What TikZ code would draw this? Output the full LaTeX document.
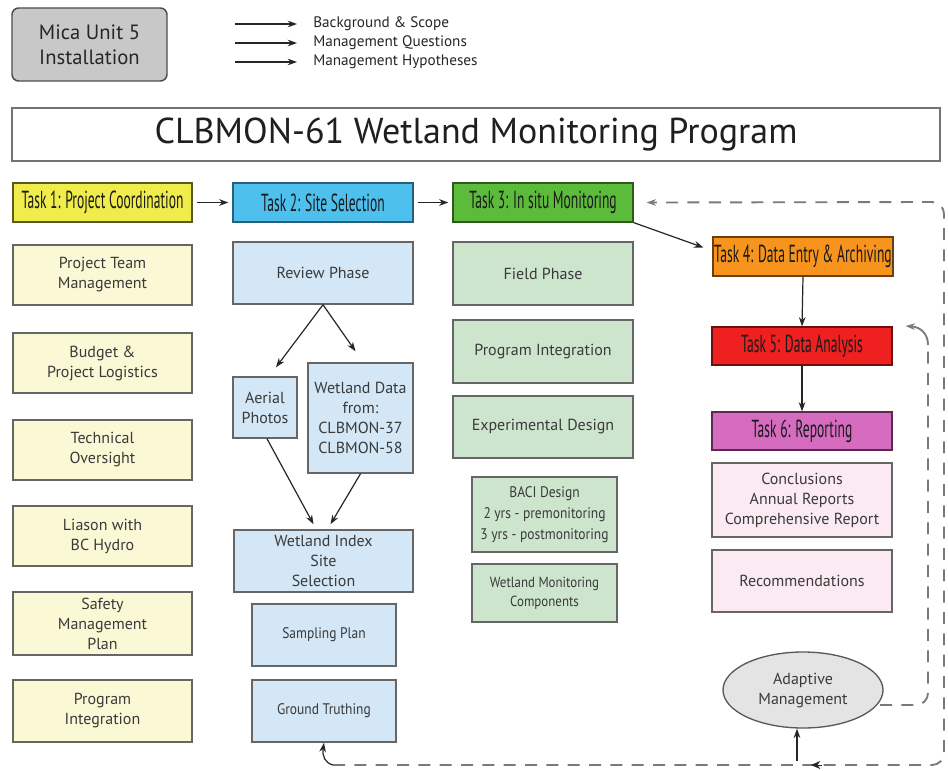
\documentclass[tikz,border=0pt]{standalone}
\usepackage{fontspec}
\setmainfont{PT Sans}
\newfontfamily\condfont[FakeStretch=0.55]{PT Sans}
\newfontfamily\narrowfont[FakeStretch=0.88]{PT Sans}
\usetikzlibrary{arrows.meta,calc,shapes.geometric}
\definecolor{tAfill}{HTML}{F0EC4C}\definecolor{tAdraw}{HTML}{5A5A20}
\definecolor{tBfill}{HTML}{4DC0EE}\definecolor{tBdraw}{HTML}{2A5F7A}
\definecolor{tCfill}{HTML}{5DBB3C}\definecolor{tCdraw}{HTML}{2F5A1E}
\definecolor{tDfill}{HTML}{F7941E}\definecolor{tDdraw}{HTML}{6A4010}
\definecolor{tEfill}{HTML}{EE2020}\definecolor{tEdraw}{HTML}{6A1010}
\definecolor{tFfill}{HTML}{D66CC0}\definecolor{tFdraw}{HTML}{5A2A50}
\definecolor{lA}{HTML}{FBF8D6}
\definecolor{lB}{HTML}{D3E7F6}
\definecolor{lC}{HTML}{CEE5CD}
\definecolor{lD}{HTML}{FBEAF2}
\definecolor{ldraw}{HTML}{666666}
\definecolor{txtgrey}{HTML}{3A3A3A}
\definecolor{micafill}{HTML}{C8C8C8}
\definecolor{amfill}{HTML}{E4E4E4}
\definecolor{loopgrey}{HTML}{7A7A7A}
\begin{document}
\begin{tikzpicture}[x=0.75pt,y=-0.75pt,
  sz/.style 2 args={minimum width=#1*0.75pt,minimum height=#2*0.75pt},
  box/.style={draw, inner sep=0pt, align=center, line width=1.1pt},
  task/.style={box, font=\condfont\fontsize{18.5}{21}\selectfont, text=black!90, line width=0.9pt},
  lt/.style={box, draw=ldraw, text=txtgrey, font=\fontsize{12}{15}\selectfont},
  lts/.style={box, draw=ldraw, text=txtgrey, font=\narrowfont\fontsize{11.5}{16}\selectfont},
  conn/.style={draw=black!85, line width=0.9pt, -{Stealth[length=7pt,width=5pt]}},
  dloop/.style={draw=loopgrey, line width=1.4pt, dash pattern=on 9pt off 7pt},
  legend/.style={inner sep=0pt, anchor=west, text=black!85, font=\fontsize{11.4}{13}\selectfont}]
\useasboundingbox[fill=white] (0,0) rectangle (948,770);

% header
\node[box, sz={155}{73}, fill=micafill, draw=black!70, rounded corners=5pt, text=black!85,
  font=\fontsize{15.5}{19}\selectfont] (mica) at (89.5,44.5) {Mica Unit 5\\Installation};
\node[legend] (lg1) at (313,24) {Background \& Scope};
\node[legend] (lg2) at (313,43) {Management Questions};
\node[legend] (lg3) at (313,62) {Management Hypotheses};
\coordinate (la1) at (235,24);
\coordinate (la2) at (235,43);
\coordinate (la3) at (235,62);
\draw[conn] (la1) -- ([xshift=-12pt]lg1.west);
\draw[conn] (la2) -- ([xshift=-12pt]lg2.west);
\draw[conn] (la3) -- ([xshift=-12pt]lg3.west);

\node[box, sz={928}{53}, draw=black!55, line width=1.3pt, text=black!88,
  font=\fontsize{27}{31}\selectfont] (title) at (476,134.5) {CLBMON-61 Wetland Monitoring Program};

% task headers
\node[task, sz={179}{39}, fill=tAfill, draw=tAdraw] (t1) at (102.5,202.5) {Task 1: Project Coordination};
\node[task, sz={180}{39}, fill=tBfill, draw=tBdraw] (t2) at (323,202.5) {Task 2: Site Selection};
\node[task, sz={180}{39}, fill=tCfill, draw=tCdraw] (t3) at (543,202.5) {Task 3: In situ Monitoring};
\node[task, sz={180}{39}, fill=tDfill, draw=tDdraw] (t4) at (803,256.5) {Task 4: Data Entry \& Archiving};
\node[task, sz={180}{38}, fill=tEfill, draw=tEdraw] (t5) at (802,346) {Task 5: Data Analysis};
\node[task, sz={180}{38}, fill=tFfill, draw=tFdraw] (t6) at (802,431) {Task 6: Reporting};

% column 1
\node[lt, sz={179}{60}, fill=lA] (a1) at (102.5,275) {Project Team\\Management};
\node[lt, sz={179}{60}, fill=lA] (a2) at (102.5,363) {Budget \&\\Project Logistics};
\node[lt, sz={179}{60}, fill=lA] (a3) at (102.5,450) {Technical\\Oversight};
\node[lt, sz={179}{60}, fill=lA] (a4) at (102.5,536) {Liason with\\BC Hydro};
\node[lt, sz={179}{63}, fill=lA] (a5) at (102.5,623.5) {Safety\\Management\\Plan};
\node[lt, sz={179}{62}, fill=lA] (a6) at (102.5,711) {Program\\Integration};

% column 2
\node[lt, sz={180}{62}, fill=lB] (rev) at (323,273) {Review Phase};
\node[lt, sz={64}{61}, fill=lB] (ap) at (265,407.5) {Aerial\\Photos};
\node[lt, sz={105}{110}, fill=lB] (wd) at (360.5,418) {Wetland Data\\from:\\CLBMON-37\\CLBMON-58};
\node[lt, sz={179}{62}, fill=lB] (wis) at (323.5,561) {Wetland Index\\Site\\Selection};
\node[lts, sz={144}{62}, fill=lB] (sp) at (324,635) {Sampling Plan};
\node[lts, sz={144}{62}, fill=lB] (gt) at (324,711) {Ground Truthing};

% column 3
\node[lt, sz={180}{63}, fill=lC] (fp) at (543,273.5) {Field Phase};
\node[lt, sz={180}{63}, fill=lC] (pi) at (543,351.5) {Program Integration};
\node[lt, sz={180}{62}, fill=lC] (ed) at (543,427) {Experimental Design};
\node[lts, sz={145}{75}, fill=lC] (baci) at (544.5,514.5) {BACI Design\\2 yrs - premonitoring\\3 yrs - postmonitoring};
\node[lts, sz={145}{58}, fill=lC, font=\narrowfont\fontsize{11}{14.5}\selectfont] (wmc) at (544.5,593) {Wetland Monitoring\\Components};

% column 4
\node[lt, sz={180}{74}, fill=lD] (conc) at (802,500) {Conclusions\\Annual Reports\\Comprehensive Report};
\node[lt, sz={180}{62}, fill=lD] (rec) at (802,581) {Recommendations};
\node[ellipse, draw=black!65, line width=1pt, fill=amfill, inner sep=0pt, sz={160}{76},
  text=txtgrey, align=center, font=\fontsize{12}{15}\selectfont] (am) at (803,690) {Adaptive\\Management};

% connectors
\draw[conn, shorten <=3pt, shorten >=3pt] (t1.east) -- (t2.west);
\draw[conn, shorten <=3pt, shorten >=3pt] (t2.east) -- (t3.west);
\draw[conn] (t3.south east) -- ($(t4.west)+(-9,-9)$);
\draw[conn] (t4.south) -- (t5.north);
\draw[conn] (t5.south) -- (t6.north);
\draw[conn] (rev.south) -- ($(ap.north)+(11,-9)$);
\draw[conn] (rev.south) -- ($(wd.north)+(-5,-11)$);
\draw[conn] ($(ap.south)+(2,0)$) -- ($(wis.north)+(-10,-5)$);
\draw[conn] (wd.south) -- ($(wis.north)+(7,-5)$);

% feedback loops
\coordinate (gtin) at (333,765);
\coordinate (brc) at (944,765);
\coordinate (trc) at (944,202);
\coordinate (t3in) at ($(t3.east)+(13,0)$);
\draw[dloop, rounded corners=9pt, -{Stealth[length=7pt,width=5pt]}] (gtin) -- (brc) -- (trc) -- (t3in);
\draw[conn] (gtin) .. controls (325,763) and (322,756) .. (gt.south);
\coordinate (amin) at (797,761);
\draw[conn] (amin) -- (amin |- am.south);
\draw[draw=black!85, -{Stealth[length=7pt,width=6pt]}] (822,765) -- (811,765);
\coordinate (ilb) at (880,705);
\coordinate (ilc) at (928,705);
\coordinate (ilt) at (928,345);
\coordinate (t5in) at ($(t5.east)+(13,-20)$);
\draw[dloop, rounded corners=9pt] (ilb) -- (ilc) -- (ilt);
\draw[draw=loopgrey, line width=1.4pt, -{Stealth[length=7pt,width=5pt]}] (ilt) .. controls (928,333) and (920,327) .. (t5in);
\end{tikzpicture}
\end{document}
